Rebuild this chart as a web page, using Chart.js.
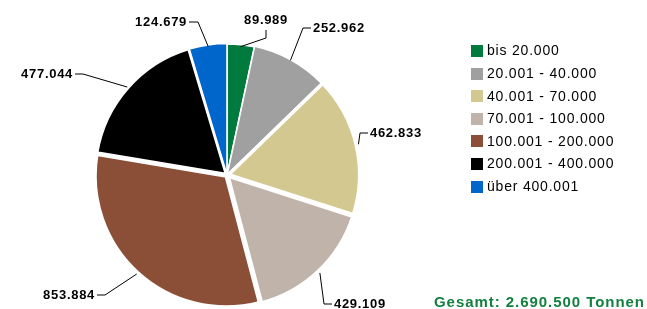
<!DOCTYPE html>
<html><head><meta charset="utf-8">
<style>html,body{margin:0;padding:0;background:#fff;overflow:hidden}#wrap{position:relative;width:647px;height:309px}</style>
<script src="https://cdn.jsdelivr.net/npm/chart.js@4.4.1/dist/chart.umd.min.js"></script>
</head><body><div id="wrap"><canvas id="c" width="647" height="309"></canvas></div>
<script>
const categories = ['bis 20.000', '20.001 - 40.000', '40.001 - 70.000', '70.001 - 100.000', '100.001 - 200.000', '200.001 - 400.000', 'über 400.001'];
const tonnage = [89989, 252962, 462833, 429109, 853884, 477044, 124679];
const valueLabels = ['89.989', '252.962', '462.833', '429.109', '853.884', '477.044', '124.679'];
const totalLabel = 'Gesamt: 2.690.500 Tonnen';

const colors = ['#007A3D', '#A0A0A0', '#D4C891', '#C0B3AA', '#8A4F36', '#000000', '#0066CC'];
const sliceOffsets = [0, 2, 6, 6, 5, 4, 1];
const sliceBorders = [1.5, 1.5, 3.5, 3.5, 3.5, 3, 1.5];
// leader line layout relative to pie centre: elbow, end, text alignment
const labelLayout = [
  {elbow: [39, -137], end: [39, -145], align: 'center'},
  {elbow: [76, -147], end: [84, -147], align: 'left'},
  {elbow: [133, -42], end: [141, -42], align: 'left'},
  {elbow: [97, 129], end: [105, 129], align: 'left'},
  {elbow: [-122, 120], end: [-130, 120], align: 'right'},
  {elbow: [-144, -101], end: [-152, -101], align: 'right'},
  {elbow: [-29, -153], end: [-38, -153], align: 'right'}
];

const annotations = {
  id: 'annotations',
  afterDraw(chart) {
    const ctx = chart.ctx;
    const meta = chart.getDatasetMeta(0);
    ctx.save();
    meta.data.forEach((arc, i) => {
      const p = arc.getProps(['x', 'y', 'startAngle', 'endAngle', 'outerRadius'], true);
      const mid = (p.startAngle + p.endAngle) / 2;
      const r = p.outerRadius + (arc.options.offset || 0) - 2;
      const ax = p.x + Math.cos(mid) * r, ay = p.y + Math.sin(mid) * r;
      const L = labelLayout[i];
      const ex = p.x + L.elbow[0], ey = p.y + L.elbow[1];
      const tx = p.x + L.end[0], ty = p.y + L.end[1];
      ctx.beginPath();
      ctx.moveTo(ax, ay); ctx.lineTo(ex, ey); ctx.lineTo(tx, ty);
      ctx.strokeStyle = '#000'; ctx.lineWidth = 1; ctx.stroke();
      ctx.font = 'bold 13px "Liberation Sans", Arial, sans-serif';
      ctx.letterSpacing = '0.7px';
      ctx.fillStyle = '#000';
      ctx.textBaseline = 'middle';
      ctx.textAlign = L.align;
      if (L.align === 'center') ctx.fillText(valueLabels[i], tx, ty - 9.5);
      else if (L.align === 'left') ctx.fillText(valueLabels[i], tx + 2, ty);
      else ctx.fillText(valueLabels[i], tx - 2, ty);
    });
    // legend
    ctx.font = '14px "Liberation Sans", Arial, sans-serif';
    ctx.letterSpacing = '0.8px';
    ctx.textAlign = 'left';
    ctx.textBaseline = 'middle';
    categories.forEach((c, i) => {
      const y = 51 + i * 22.6;
      ctx.fillStyle = colors[i];
      ctx.fillRect(471, Math.round(y - 6), 12, 12);
      ctx.fillStyle = '#000';
      ctx.fillText(c, 487, y + 0.5);
    });
    ctx.font = 'bold 15px "Liberation Sans", Arial, sans-serif';
    ctx.letterSpacing = '0.95px';
    ctx.fillStyle = '#138040';
    ctx.fillText(totalLabel, 434, 303);
    ctx.restore();
  }
};

new Chart(document.getElementById('c'), {
  type: 'pie',
  data: {
    labels: categories,
    datasets: [{
      data: tonnage,
      backgroundColor: colors,
      borderColor: '#ffffff',
      borderWidth: sliceBorders,
      offset: sliceOffsets
    }]
  },
  options: {
    responsive: false,
    animation: false,
    devicePixelRatio: 1,
    radius: 131,
    layout: {padding: {left: 0, right: 193, top: 41, bottom: 0}},
    plugins: {legend: {display: false}, tooltip: {enabled: false}}
  },
  plugins: [annotations]
});
</script></body></html>
